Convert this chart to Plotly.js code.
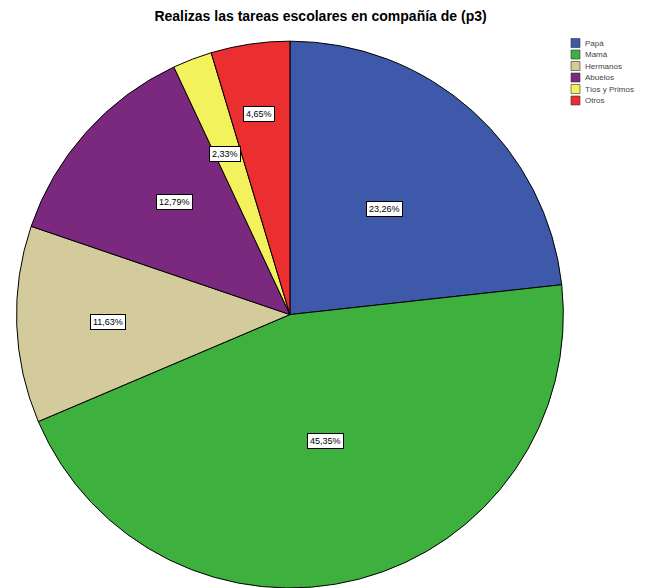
<!DOCTYPE html>
<html><head><meta charset="utf-8">
<script src="https://cdn.plot.ly/plotly-3.0.1.min.js"></script>
<style>body{margin:0;padding:0;background:#fff;}#chart{width:665px;height:588px;}</style>
</head><body><div id="chart"></div>
<script>
const categories = ["Papá", "Mamá", "Hermanos", "Abuelos", "Tíos y Primos", "Otros"];
const values = [23.26, 45.35, 11.63, 12.79, 2.33, 4.65];
const colors = ["#3F59AA", "#3DB03D", "#D4CB9C", "#7A297E", "#F4F25C", "#EB2F31"];
// label distance from centre as fraction of radius (styling)
const labelRadius = [0.52, 0.51, 0.73, 0.66, 0.66, 0.77];

const W = 665, H = 588;
const dom = {x: [0.0, 0.872], y: [0.0, 0.93]};
const cx = (dom.x[0] + dom.x[1]) / 2 * W;
const dh = (dom.y[1] - dom.y[0]) * H, dw = (dom.x[1] - dom.x[0]) * W;
const R = Math.min(dh, dw) / 2;
const cyFrac = (dom.y[0] + dom.y[1]) / 2;

const total = values.reduce((a, b) => a + b, 0);
const annotations = [];
const shapes = [];
let cum = 0;
values.forEach((v, i) => {
  const mid = (cum + v / 2) / total * 2 * Math.PI;
  cum += v;
  const r = labelRadius[i] * R;
  const px = cx + r * Math.sin(mid);
  const py = r * Math.cos(mid);
  annotations.push({
    x: px / W, y: cyFrac + py / H, xref: "paper", yref: "paper",
    text: v.toFixed(2).replace(".", ",") + "%", showarrow: false,
    font: {family: "Liberation Sans, Arial", size: 9, color: "#000"},
    bgcolor: "#fff", bordercolor: "#000", borderwidth: 1, borderpad: 2
  });
});

// custom compact legend
const legX = 571, legY0 = 43, legStep = 11.5, sq = 9;
categories.forEach((c, i) => {
  const yc = legY0 + i * legStep;
  shapes.push({type: "rect", xref: "paper", yref: "paper",
    x0: legX / W, x1: (legX + sq) / W,
    y0: 1 - (yc + sq / 2) / H, y1: 1 - (yc - sq / 2) / H,
    fillcolor: colors[i], line: {color: "#333", width: 0.6}});
  annotations.push({x: (legX + sq + 3) / W, y: 1 - yc / H, xref: "paper", yref: "paper",
    xanchor: "left", yanchor: "middle", showarrow: false, text: c,
    font: {family: "Liberation Sans, Arial", size: 8, color: "#444"}});
});

const trace = {
  type: "pie", labels: categories, values: values, sort: false,
  direction: "clockwise", rotation: 0,
  marker: {colors: colors, line: {color: "#000", width: 1}},
  textinfo: "none", hoverinfo: "label+percent",
  domain: dom
};

const layout = {
  width: W, height: H,
  margin: {l: 0, r: 0, t: 0, b: 0},
  paper_bgcolor: "#fff",
  font: {family: "Liberation Sans, Arial", color: "#000"},
  title: {text: "<b>Realizas las tareas escolares en compañía de (p3)</b>",
    font: {size: 14, family: "Liberation Sans, Arial", color: "#000"},
    x: 0.482, xanchor: "center", y: 0.972, yanchor: "middle"},
  showlegend: false,
  annotations: annotations,
  shapes: shapes
};

Plotly.newPlot("chart", [trace], layout, {displayModeBar: false, staticPlot: true});
</script></body></html>
